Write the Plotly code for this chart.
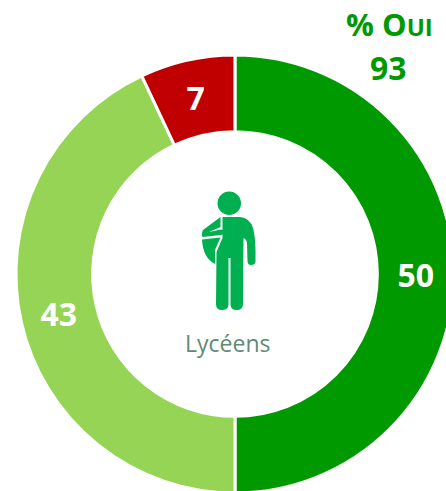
import plotly.graph_objects as go

labels = ["Oui, tout à fait", "Oui, plutôt", "Non"]
values = [50, 43, 7]
colors = ["#009900", "#96D455", "#C00000"]
center_label = "Lycéens"
total_label = "% O"
total_small = "UI"
total_value = "93"

W, H = 470, 500
FONT = "Open Sans"
ICON = "#00B050"


def X(p):
    return p / W


def Y(p):
    return 1 - p / H


def path(cmds):
    out = []
    for c in cmds:
        if isinstance(c, str):
            out.append(c)
        else:
            out.append(f"{X(c[0]):.5f},{Y(c[1]):.5f}")
    return " ".join(out)


def shape(cmds, color=ICON):
    return dict(type="path", xref="paper", yref="paper", path=path(cmds),
                fillcolor=color, line=dict(width=0), layer="above")


fig = go.Figure(go.Pie(
    labels=labels, values=values, sort=False, direction="clockwise", rotation=0,
    hole=0.65, textinfo="value", textposition="inside",
    insidetextorientation="horizontal",
    insidetextfont=dict(family=FONT, size=32, color="white", weight="bold"),
    marker=dict(colors=colors, line=dict(color="white", width=3)),
    domain=dict(x=[16 / W, 454 / W], y=[1 - 493 / H, 1 - 55 / H]),
    showlegend=False, hoverinfo="label+value",
))

shapes = [
    # head
    dict(type="circle", xref="paper", yref="paper", x0=X(217.5), x1=X(241), y0=Y(215), y1=Y(191.5),
         fillcolor=ICON, line=dict(width=0), layer="above"),
    # bag
    shape(["M", (202, 239.5), "L", (220.5, 237.5), "L", (215, 250), "L", (215, 264),
           "Q", (203, 258), (202, 239.5), "Z"]),
    # torso, right arm and legs
    shape(["M", (222.5, 217), "L", (240, 217), "Q", (250, 218), (253, 228), "Q", (256, 238), (255.5, 262),
           "Q", (255, 265), (251, 265), "Q", (247.5, 265), (247.5, 261), "L", (247, 243),
           "Q", (246.5, 239), (243.5, 238), "L", (243, 304),
           "Q", (243, 310), (236.5, 310), "Q", (230.5, 310), (230.5, 304), "L", (230.5, 258),
           "L", (228.5, 258), "L", (228.5, 304), "Q", (228.5, 310), (222, 310), "Q", (216, 310), (216, 304),
           "L", (216.5, 252), "L", (222.5, 238), "Z"]),
    # bent arm
    shape(["M", (220.5, 217), "L", (203, 230), "Q", (201, 234), (202.5, 237), "L", (221, 235),
           "Q", (225, 234), (224.5, 231.5), "Q", (224, 229.5), (221, 229.5), "L", (209, 232),
           "L", (220.5, 227), "Z"]),
]

annotations = [
    dict(x=X(227.5), y=Y(343), xref="paper", yref="paper", text=center_label, showarrow=False,
         xanchor="center", yanchor="middle",
         font=dict(family=FONT, size=23, color="#5F8B72")),
    dict(x=X(389), y=Y(24), xref="paper", yref="paper",
         text=f"<b>{total_label}<span style='font-size:24px'>{total_small}</span></b>", showarrow=False,
         xanchor="center", yanchor="middle",
         font=dict(family=FONT, size=31, color="#009900")),
    dict(x=X(388.5), y=Y(67), xref="paper", yref="paper", text=f"<b>{total_value}</b>", showarrow=False,
         xanchor="center", yanchor="middle",
         font=dict(family=FONT, size=32, color="#009900")),
]

fig.update_layout(width=W, height=H, margin=dict(l=0, r=0, t=0, b=0), paper_bgcolor="white",
                  shapes=shapes, annotations=annotations)

fig.write_html("out.html", config={"displayModeBar": False}, post_script=(
    "document.documentElement.style.overflow='hidden';"
    "document.body.style.overflow='hidden';document.body.style.margin='0';"
))
